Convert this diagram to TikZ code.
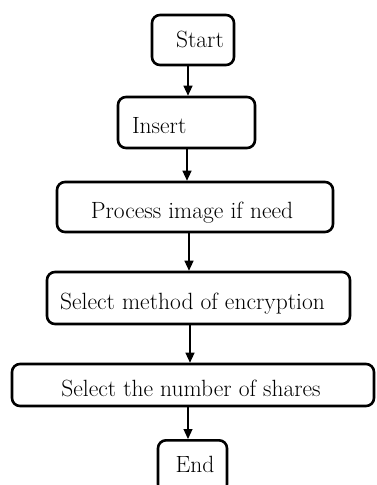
\documentclass[tikz,border=0pt]{standalone}
\usetikzlibrary{arrows.meta}
\begin{document}
\begin{tikzpicture}[x=1pt,y=-1pt,
  box/.style={draw=black,line width=2.6pt,rounded corners=8pt,inner sep=0pt,
    font=\fontsize{23.5}{28}\selectfont,text height=24pt,text depth=2pt},
  arr/.style={line width=1.2pt,-{Triangle[length=10pt,width=9pt]}}]
\useasboundingbox (0,0) rectangle (376,485);
\clip (0,0) rectangle (376,485);
\node[box,minimum width=82pt,minimum height=50pt,text height=17pt,text depth=3pt] (start) at (193,40) {\hspace*{14pt}Start};
\node[box,minimum width=137pt,minimum height=51pt,text width=137pt,align=left] (insert) at (186.5,122.5) {\hspace*{14pt}Insert};
\node[box,minimum width=276pt,minimum height=50pt] (process) at (195,207) {\hspace*{-6pt}Process image if need};
\node[box,minimum width=303pt,minimum height=52pt] (method) at (198.5,298) {\hspace*{-12pt}Select method of encryption};
\node[box,minimum width=362pt,minimum height=42pt] (shares) at (193,385) {\hspace*{-4pt}Select the number of shares};
\node[box,minimum width=69pt,minimum height=52pt,text height=16pt,text depth=4pt,anchor=north] (end) at (192.5,439) {\hspace*{5pt}End};
\coordinate (a1) at (188,0);
\coordinate (a2) at (187,0);
\coordinate (a3) at (189,0);
\coordinate (a4) at (190,0);
\coordinate (a5) at (188,0);
\draw[arr] (start.south -| a1) -- (insert.north -| a1);
\draw[arr] (insert.south -| a2) -- (process.north -| a2);
\draw[arr] (process.south -| a3) -- (method.north -| a3);
\draw[arr] (method.south -| a4) -- (shares.north -| a4);
\draw[arr] (shares.south -| a5) -- (end.north -| a5);
\end{tikzpicture}
\end{document}
